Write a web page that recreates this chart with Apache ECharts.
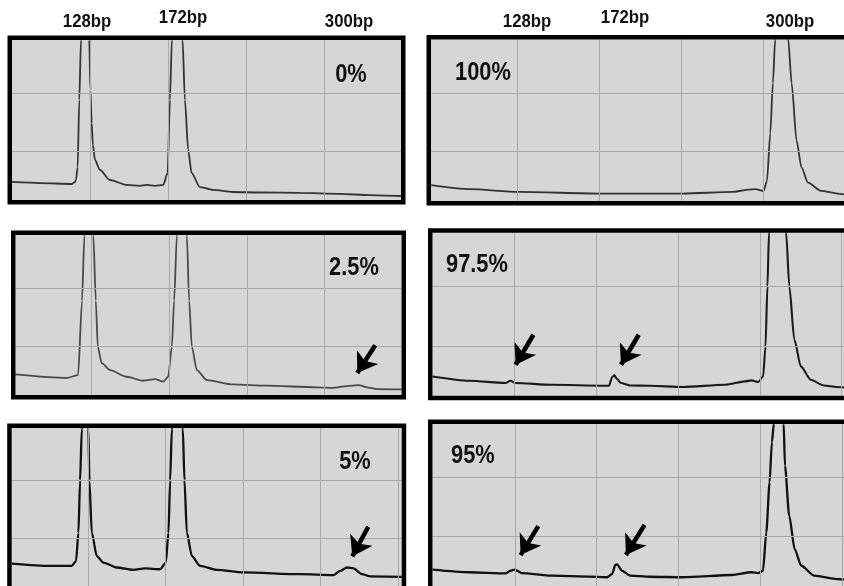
<!DOCTYPE html>
<html><head><meta charset="utf-8">
<script src="https://cdn.jsdelivr.net/npm/echarts@6/dist/echarts.min.js"></script>
<style>html,body{margin:0;padding:0;background:#fff}#c{width:844px;height:586px}</style>
</head><body><div id="c"></div>
<script>
// ---------- data ----------
const bpLabels = ['128bp', '172bp', '300bp'];
const panelLabels = ['0%', '2.5%', '5%', '100%', '97.5%', '95%'];
// gridline positions (x in grid divisions, y in % of panel height)
const gridX = [1, 2, 3, 4, 5];
const gridY = [30.5, 67];

// traces: x in grid divisions, y in % of full scale (peaks run off-scale)
const p0X = [0,0.359,0.769,0.808,0.821,0.842,0.863,0.885,0.936,0.991,1.006,1.022,1.038,1.064,1.128,1.256,1.474,1.641,1.731,1.833,1.94,1.996,2.026,2.051,2.119,2.188,2.218,2.26,2.304,2.41,2.577,2.833,3.179,3.692,4.205,4.59,4.99];
const p0Y = [11.3,10.6,10,11.3,12.5,20.6,62.5,100,143.8,100,68.8,48.1,34.4,25,18.8,12.5,9.4,8.8,9.4,8.8,9.4,16.9,62.5,100,150,100,62.5,31.3,16.9,8.1,6.3,5,4.7,4.4,3.8,3.1,2.5];

const p25X = [0.013,0.683,0.825,0.876,0.906,0.96,1.022,1.053,1.079,1.13,1.237,1.452,1.662,1.817,1.92,1.985,2.032,2.062,2.097,2.161,2.226,2.255,2.29,2.354,2.483,2.822,3.256,3.9,4.111,4.287,4.437,4.545,4.674,4.99];
const p25Y = [12.9,10.7,12.4,59,99.4,140,99.4,59,30,19.9,15.5,11.4,8.9,9.9,8.3,11.4,30,59,99.4,140,99.4,59,30,15.5,9.3,6.6,5.8,4.8,4.5,5.6,6.2,4.8,3.7,3.5];

const p5X = [0.009,0.505,0.785,0.841,0.871,0.893,0.915,0.957,1.0,1.013,1.044,1.109,1.194,1.367,1.578,1.734,1.928,2.001,2.035,2.057,2.079,2.15,2.221,2.242,2.273,2.338,2.445,2.661,3.005,3.739,4.169,4.256,4.343,4.428,4.537,4.644,5.05];
const p5Y = [14.2,12.7,12.7,15.8,33.6,66.9,99.2,140,99.2,66.9,33.8,18.9,14.8,11.7,10.2,11.1,10.6,14.8,33.6,66.9,99.2,140,99.2,66.9,33.8,18.9,12.7,10.2,8.6,7.5,6.9,9.6,11.7,11.1,7.5,6.1,5.8];

const p100X = [-0.048,0.42,1.02,2.02,3.022,3.622,3.821,3.902,4.001,4.042,4.082,4.114,4.142,4.222,4.301,4.342,4.402,4.462,4.541,4.702,4.902,4.98];
const p100Y = [9.8,7.3,5.6,4.6,4.6,5.6,7.1,7.3,6.25,12.5,41.9,73.1,100,150,100,72.9,37.5,20.8,11.4,6.25,4.6,4.1];

const p975X = [-0.006,0.446,0.888,0.948,1.008,1.449,2.093,2.153,2.193,2.22,2.253,2.301,2.413,2.654,3.057,3.578,3.819,3.9,3.98,4.04,4.069,4.093,4.112,4.217,4.322,4.361,4.422,4.502,4.623,4.783,4.943,5.03];
const p975Y = [11.8,9.2,7.8,9.2,7.8,6.7,6.1,6.1,11.5,12.5,10.2,7.8,6.3,6.1,5.3,6.7,8.8,9.4,8.4,11.8,30.2,67.1,99.8,150,99.8,67.1,34.4,18,9.8,6.3,5.3,5.0];

const p95X = [-0.006,0.445,0.886,0.946,0.998,1.085,1.446,2.127,2.188,2.227,2.248,2.308,2.407,2.648,3.049,3.65,3.891,3.97,4.03,4.071,4.111,4.139,4.163,4.223,4.283,4.299,4.351,4.417,4.498,4.657,4.937,5.02];
const p95Y = [10.1,8.5,7.8,9.4,10.1,8.0,6.4,5.4,7.4,13.0,13.4,9.4,6.4,5.7,5.4,6.8,8.5,8.0,9.4,33.1,64.0,88.7,100,140,100,74.3,43.4,22.8,12.5,6.4,4.3,4.0];

// arrows: [tailX, tailY, tipX, tipY] in data units
const arrows0 = [];
const arrows25 = [[4.652, 31.1, 4.420, 13.7]];
const arrows5 = [[4.618, 37.5, 4.411, 18.75]];
const arrows100 = [];
const arrows975 = [[1.229, 37.4, 1.012, 19.0], [2.518, 37.4, 2.301, 19.0]];
const arrows95 = [[1.286, 37.0, 1.070, 19.1], [2.584, 37.7, 2.356, 19.1]];

// ---------- layout / style ----------
const panels = [
  {x: p0X,   y: p0Y,   arrows: arrows0,   left: 12,    top: 40,    width: 389, height: 160,   xMin: 0,      xMax: 4.99, color: '#333333', lw: 1.8},
  {x: p25X,  y: p25Y,  arrows: arrows25,  left: 15.5,  top: 235,   width: 386, height: 160,   xMin: 0.019,  xMax: 4.99, color: '#4a4a4a', lw: 1.8},
  {x: p5X,   y: p5Y,   arrows: arrows5,   left: 11.7,  top: 428,   width: 390, height: 159,   xMin: 0.009,  xMax: 5.05, color: '#111111', lw: 2.3},
  {x: p100X, y: p100Y, arrows: arrows100, left: 431,   top: 39.5,  width: 419, height: 161.5, xMin: -0.05,  xMax: 4.98, color: '#333333', lw: 1.8},
  {x: p975X, y: p975Y, arrows: arrows975, left: 432.5, top: 232.7, width: 418, height: 163,   xMin: -0.006, xMax: 5.03, color: '#1a1a1a', lw: 2.1},
  {x: p95X,  y: p95Y,  arrows: arrows95,  left: 432.5, top: 424,   width: 418, height: 163,   xMin: -0.006, xMax: 5.02, color: '#111111', lw: 2.3}
];
const labelPos = [
  {x: 351, y: 75, align: 'center'}, {x: 354, y: 268, align: 'center'}, {x: 355, y: 462, align: 'center'},
  {x: 455, y: 73, align: 'left'}, {x: 446, y: 265, align: 'left'}, {x: 451, y: 456, align: 'left'}
];
const bpPos = [
  [{x: 87, y: 22}, {x: 183, y: 18}, {x: 349, y: 22}],
  [{x: 527, y: 22}, {x: 625, y: 18}, {x: 790, y: 22}]
];
const FONT = '"Liberation Sans", Arial, Helvetica, sans-serif';
const BW = 4.5;

const grid = [], xAxis = [], yAxis = [], series = [], graphic = [];
panels.forEach((p, i) => {
  grid.push({left: p.left, top: p.top, width: p.width, height: p.height, show: true,
    backgroundColor: '#d6d6d6', borderWidth: 0});
  xAxis.push({gridIndex: i, type: 'value', min: p.xMin, max: p.xMax, show: false, splitLine: {show: false}});
  yAxis.push({gridIndex: i, type: 'value', min: 0, max: 100, show: false, splitLine: {show: false}});
  // gridlines
  series.push({type: 'line', xAxisIndex: i, yAxisIndex: i, data: [], z: 1, silent: true,
    markLine: {silent: true, symbol: ['none', 'none'], label: {show: false}, animation: false,
      lineStyle: {color: '#a9a9a9', width: 1, type: 'solid'},
      emphasis: {disabled: true},
      data: gridX.map(v => ({xAxis: v})).concat(gridY.map(v => ({yAxis: v})))}});
  // trace
  series.push({type: 'line', xAxisIndex: i, yAxisIndex: i, z: 3,
    data: p.x.map((v, k) => [v, p.y[k]]),
    showSymbol: false, symbol: 'none', smooth: 0.25, smoothMonotone: 'x', clip: true,
    lineStyle: {color: p.color, width: p.lw},
    markLine: {silent: true, symbol: ['none', 'arrow'], symbolSize: 19, label: {show: false},
      lineStyle: {color: '#000', width: 4.5, type: 'solid'}, emphasis: {disabled: true},
      data: p.arrows.map(a => [{coord: [a[0], a[1]]}, {coord: [a[2], a[3]]}])}});
  // frame
  graphic.push({type: 'rect', z: 100, silent: true,
    shape: {x: p.left - BW / 2, y: p.top - BW / 2, width: p.width + BW, height: p.height + BW},
    style: {fill: 'none', stroke: '#000', lineWidth: BW}});
  // percentage label
  const lp = labelPos[i];
  graphic.push({type: 'text', z: 101, x: lp.x, y: lp.y, scaleX: 0.84, silent: true,
    style: {text: panelLabels[i], font: 'bold 26px ' + FONT, fill: '#111',
      textAlign: lp.align, textVerticalAlign: 'middle', align: lp.align, verticalAlign: 'middle'}});
});
bpPos.forEach(row => row.forEach((bp, k) => {
  graphic.push({type: 'text', z: 101, x: bp.x, y: bp.y, scaleX: 0.88, silent: true,
    style: {text: bpLabels[k], font: 'bold 19px ' + FONT, fill: '#111',
      textAlign: 'center', textVerticalAlign: 'middle', align: 'center', verticalAlign: 'middle'}});
}));

const chart = echarts.init(document.getElementById('c'), null, {renderer: 'canvas'});
chart.setOption({animation: false, backgroundColor: '#ffffff', grid, xAxis, yAxis, series, graphic});
</script></body></html>
